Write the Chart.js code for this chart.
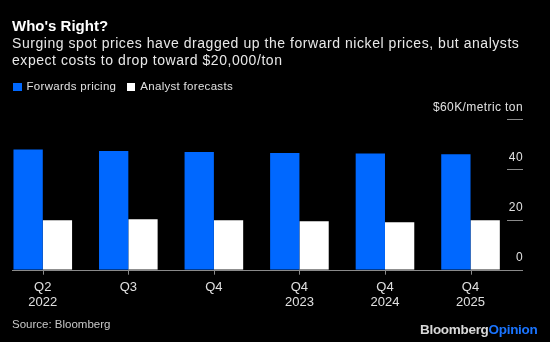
<!DOCTYPE html>
<html>
<head>
<meta charset="utf-8">
<script src="https://cdn.jsdelivr.net/npm/chart.js@4.4.1/dist/chart.umd.min.js"></script>
<style>
  html, body { margin: 0; padding: 0; background: #000; }
  body { width: 550px; height: 342px; position: relative; overflow: hidden; font-family: "Liberation Sans", Arial, sans-serif; }
  #chart { position: absolute; left: 0; top: 0; }
  .txt { position: absolute; white-space: nowrap; }
  .title { left: 12px; top: 17px; font-size: 15px; font-weight: bold; color: #fff; }
  .sub { left: 12px; top: 35px; font-size: 14px; line-height: 17.4px; letter-spacing: 0.55px; color: #e8e8e8; }
  .legend { left: 13px; top: 80px; font-size: 11.5px; letter-spacing: 0.3px; color: #e0e0e0; }
  .legend span.box { display: inline-block; width: 8.5px; height: 8.5px; margin-right: 5px; vertical-align: -1px; }
  .source { left: 12px; top: 318px; font-size: 11.5px; color: #c8c8c8; }
  .logo { left: 420px; top: 322px; font-size: 13.5px; font-weight: bold; color: #d8d8d8; letter-spacing: -0.3px; }
  .logo b { color: #1a74ff; }
</style>
</head>
<body>
<canvas id="chart" width="550" height="342"></canvas>
<div class="txt title">Who's Right?</div>
<div class="txt sub">Surging spot prices have dragged up the forward nickel prices, but analysts<br>expect costs to drop toward $20,000/ton</div>
<div class="txt legend"><span class="box" style="background:#0068ff"></span>Forwards pricing&nbsp;&nbsp;&nbsp;<span class="box" style="background:#fff"></span>Analyst forecasts</div>
<div class="txt source">Source: Bloomberg</div>
<div class="txt logo">Bloomberg<b>Opinion</b></div>

<script>
const categories = [['Q2', '2022'], ['Q3'], ['Q4'], ['Q4', '2023'], ['Q4', '2024'], ['Q4', '2025']];
const forwards = [48.0, 47.4, 47.0, 46.6, 46.4, 46.1];
const forecasts = [19.7, 20.1, 19.7, 19.3, 18.9, 19.7];
const yTicks = ['0', '20', '40', '$60K/metric ton'];

const BLUE = '#0068ff';
const LINE = '#8a8a8a';

// baseline, small tick marks and right-hand y labels
const axisPlugin = {
  id: 'axisPlugin',
  afterDatasetsDraw(chart) {
    const {ctx, scales: {x, y}} = chart;
    const y0 = y.getPixelForValue(0);
    ctx.save();
    ctx.strokeStyle = LINE;
    ctx.lineWidth = 1;
    ctx.beginPath();
    ctx.moveTo(12, Math.round(y0) + 0.5);
    ctx.lineTo(523, Math.round(y0) + 0.5);
    categories.forEach((c, i) => {
      const px = Math.round(x.getPixelForValue(i)) + 0.5;
      ctx.moveTo(px, y0);
      ctx.lineTo(px, y0 + 5);
    });
    y.ticks.forEach((t) => {
      if (t.value === 0) return;
      const py = Math.round(y.getPixelForValue(t.value)) + 0.5;
      ctx.moveTo(507, py);
      ctx.lineTo(523, py);
    });
    ctx.stroke();
    ctx.fillStyle = '#e0e0e0';
    ctx.font = '12px "Liberation Sans", Arial, sans-serif';
    ctx.letterSpacing = '0.4px';
    ctx.textAlign = 'right';
    ctx.textBaseline = 'middle';
    y.ticks.forEach((t, i) => {
      const py = y.getPixelForValue(t.value);
      ctx.fillText(yTicks[i], 523, py - 12);
    });
    ctx.restore();
  }
};

new Chart(document.getElementById('chart'), {
  type: 'bar',
  data: {
    labels: categories,
    datasets: [
      { label: 'Forwards pricing', data: forwards, backgroundColor: BLUE },
      { label: 'Analyst forecasts', data: forecasts, backgroundColor: '#ffffff' },
    ]
  },
  options: {
    responsive: false,
    animation: false,
    layout: { padding: { left: 0, right: 36.7, top: 119.3, bottom: 22.4 } },
    datasets: { bar: { categoryPercentage: 0.685, barPercentage: 1.0 } },
    plugins: { legend: { display: false }, tooltip: { enabled: false } },
    scales: {
      x: {
        grid: { display: false, drawTicks: false },
        border: { display: false },
        ticks: {
          color: '#e0e0e0',
          padding: 10,
          maxRotation: 0,
          autoSkip: false,
          font: { family: '"Liberation Sans", Arial, sans-serif', size: 13, lineHeight: 1.15 }
        }
      },
      y: {
        display: false,
        min: 0,
        max: 60,
        ticks: { stepSize: 20 }
      }
    }
  },
  plugins: [axisPlugin]
});
</script>
</body>
</html>
